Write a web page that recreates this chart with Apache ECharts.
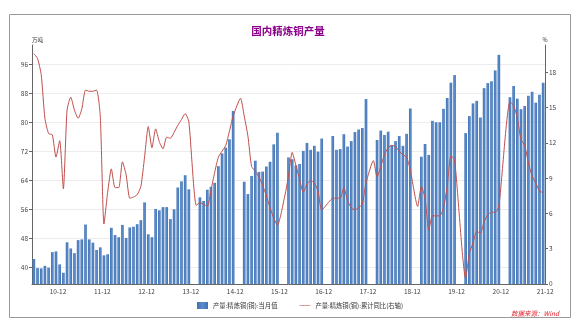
<!DOCTYPE html>
<html><head><meta charset="utf-8">
<script src="https://cdn.jsdelivr.net/npm/echarts@6/dist/echarts.min.js"></script>
<style>html,body{margin:0;padding:0;background:#fff}#c{width:576px;height:326px}</style>
</head><body><div id="c"></div>
<script>
// Monthly categories Jun 2010 .. Dec 2021 (label "YY-MM")
const categories = [];
for (let y = 2010; y <= 2021; y++) {
  for (let m = (y === 2010 ? 6 : 1); m <= 12; m++) {
    categories.push(String(y).slice(2) + '-' + String(m).padStart(2, '0'));
  }
}
// 产量:精炼铜(铜):当月值 (万吨)
const prod2010 = [42.3, 39.8, 39.7, 40.4, 39.9, 44.2, 44.4];
const prod2011 = [40.8, 38.5, 46.9, 45.2, 43.9, 47.5, 47.7, 51.8, 47.7, 46.8, 44.8, 45.5];
const prod2012 = [43.3, 43.6, 50.9, 48.9, 48.3, 51.7, 48.1, 51.0, 51.2, 51.9, 53.0, 57.9];
const prod2013 = [49.1, 48.3, 56.1, 55.7, 56.6, 56.6, 53.3, 56.0, 62.0, 63.7, 65.4, 61.5];
const prod2014 = [null, null, 59.3, 58.3, 61.4, 62.2, 63.3, 67.9, 71.4, 73.0, 75.3, 83.1];
const prod2015 = [null, null, 63.6, 60.2, 65.2, 69.4, 66.3, 66.4, 67.8, 69.1, 73.9, 77.1];
const prod2016 = [null, null, 70.3, 69.8, 68.1, 68.5, 72.1, 74.3, 72.4, 73.5, 71.9, 75.5];
const prod2017 = [null, null, 76.2, 72.4, 72.6, 76.7, 73.3, 74.8, 77.3, 78.0, 78.4, 86.4];
const prod2018 = [null, null, 75.1, 77.7, 76.5, 77.4, 73.7, 74.8, 76.2, 73.5, 76.8, 83.8];
const prod2019 = [null, null, 70.5, 74.0, 71.0, 80.4, 80.0, 80.0, 83.7, 86.7, 90.9, 93.0];
const prod2020 = [null, null, 77.0, 81.7, 85.2, 85.9, 81.3, 89.4, 90.8, 91.3, 94.3, 98.6];
const prod2021 = [null, null, 86.9, 90.0, 86.5, 83.6, 84.5, 87.3, 88.4, 85.4, 87.6, 90.9];
// 产量:精炼铜(铜):累计同比 (%)
const yoy2010 = [19.6, 19.2, 17.8, 14.1, 12.8, 12.7, 10.8];
const yoy2011 = [12.2, 8.1, 14.8, 15.9, 14.8, 14.1, 14.9, 16.5, 16.4, 16.4, 16.5, 14.3];
const yoy2012 = [5.1, 7.8, 9.8, 8.2, 8.2, 10.4, 9.3, 7.3, 7.4, 7.6, 8.3, 10.8];
const yoy2013 = [13.4, 11.6, 13.2, 12.1, 11.5, 12.5, 12.4, 12.9, 13.5, 14.0, 14.5, 13.8];
const yoy2014 = [null, 6.7, 6.9, 6.8, 6.6, 8.0, 9.5, 10.8, 11.3, 11.8, 13.0, 14.3];
const yoy2015 = [null, 15.8, 14.3, 12.6, 10.0, 9.6, 9.1, 8.4, 7.5, 6.5, 5.6, 5.0];
const yoy2016 = [null, 7.5, 9.2, 11.2, 10.1, 8.9, 7.8, 8.5, 8.8, 8.6, 7.9, 6.3];
const yoy2017 = [null, 7.0, 7.3, 7.3, 7.3, 8.2, 7.1, 6.5, 6.3, 6.5, 6.8, 8.6];
const yoy2018 = [null, 10.5, 9.1, 10.0, 11.0, 11.6, 11.8, 11.7, 11.3, 11.0, 10.8, 9.7];
const yoy2019 = [null, 6.6, 8.3, 7.3, 4.6, 5.8, 5.8, 5.8, 6.5, 8.3, 10.9, 10.6];
const yoy2020 = [null, null, 0.5, 2.6, 3.5, 4.5, 4.3, 5.3, 5.9, 6.1, 6.1, 6.6];
const yoy2021 = [null, null, 15.5, 15.2, 14.1, 12.3, 11.8, 10.3, 9.2, 8.6, 7.9, 7.8];

const leftTicks = [40, 48, 56, 64, 72, 80, 88, 96];
const seriesNames = ['产量:精炼铜(铜):当月值', '产量:精炼铜(铜):累计同比(右轴)'];

const production = [].concat(prod2010, prod2011, prod2012, prod2013, prod2014, prod2015,
  prod2016, prod2017, prod2018, prod2019, prod2020, prod2021);
const yoy = [].concat(yoy2010, yoy2011, yoy2012, yoy2013, yoy2014, yoy2015,
  yoy2016, yoy2017, yoy2018, yoy2019, yoy2020, yoy2021);

const FONT = '"Noto Sans CJK SC", "Noto Sans", sans-serif';
const chart = echarts.init(document.getElementById('c'), null, {renderer: 'canvas'});
chart.setOption({
  backgroundColor: '#ffffff',
  animation: false,
  textStyle: {fontFamily: FONT},
  title: {
    text: '国内精炼铜产量', left: 'center', top: 21,
    textStyle: {fontSize: 10.5, fontWeight: 'bold', color: '#8b008b', fontFamily: FONT}
  },
  grid: {left: 32, right: 31, top: 45, bottom: 42},
  legend: {
    left: 192, top: 297, itemWidth: 11, itemHeight: 7, itemGap: 22,
    textStyle: {fontSize: 6.3, color: '#333', fontFamily: FONT},
    data: [
      {name: seriesNames[0], icon: 'rect'},
      {name: seriesNames[1], icon: 'path://M0,0 L20,0 L20,1 L0,1 Z', itemStyle: {color: '#c0504d'}}
    ]
  },
  xAxis: {
    type: 'category', data: categories, boundaryGap: true,
    axisLine: {lineStyle: {color: '#666', width: 1}},
    axisTick: {interval: (i, v) => v.endsWith('-01'), length: 3, lineStyle: {color: '#666'}},
    axisLabel: {interval: (i, v) => v.endsWith('-12'), fontSize: 6.5, color: '#444', margin: 4,
      padding: [0, 0, 0, 4], fontFamily: FONT}
  },
  yAxis: [
    {
      type: 'value', min: 35.4, max: 101.3, position: 'left',
      name: '万吨', nameLocation: 'end', nameGap: 2,
      nameTextStyle: {fontSize: 5.5, color: '#333', align: 'left', fontFamily: FONT},
      axisLine: {show: true, lineStyle: {color: '#666'}},
      axisTick: {show: true, customValues: leftTicks, length: 3, lineStyle: {color: '#666'}},
      axisLabel: {customValues: leftTicks, fontSize: 6.5, color: '#444', margin: 4, fontFamily: FONT},
      splitLine: {show: false}
    },
    {
      type: 'value', min: 0, max: 20.34, interval: 3, position: 'right',
      name: '%', nameLocation: 'end', nameGap: 2,
      nameTextStyle: {fontSize: 5.5, color: '#333', align: 'center', fontFamily: FONT},
      axisLine: {show: true, lineStyle: {color: '#666'}},
      axisTick: {show: true, length: 3, lineStyle: {color: '#666'}},
      axisLabel: {fontSize: 6.5, color: '#444', margin: 4, showMaxLabel: false, fontFamily: FONT},
      splitLine: {show: false}
    }
  ],
  series: [
    {
      name: 'grid', type: 'line', data: [], yAxisIndex: 0, z: 0, silent: true,
      markLine: {
        silent: true, symbol: 'none', z: 0, animation: false,
        label: {show: false},
        lineStyle: {color: '#ececec', type: 'solid', width: 1},
        data: leftTicks.map(v => ({yAxis: v}))
      }
    },
    {
      name: seriesNames[0], type: 'bar', yAxisIndex: 0, data: production, z: 2,
      barWidth: '72%',
      itemStyle: {
        color: new echarts.graphic.LinearGradient(0, 0, 1, 0, [
          {offset: 0, color: '#3f72b3'}, {offset: 0.5, color: '#5a8bcb'}, {offset: 1, color: '#3f72b3'}
        ])
      }
    },
    {
      name: seriesNames[1], type: 'line', yAxisIndex: 1, data: yoy, z: 3,
      connectNulls: true, showSymbol: false, symbol: 'none', smooth: 0.2,
      lineStyle: {color: '#c0504d', width: 1},
      itemStyle: {color: '#c0504d'}
    }
  ],
  graphic: [
    {type: 'rect', shape: {x: 9.5, y: 14.5, width: 561, height: 303}, silent: true, z: -1,
      style: {fill: null, stroke: '#9a9a9a', lineWidth: 1}},
    {type: 'text', left: 511, top: 310, silent: true,
      style: {text: '数据来源：Wind', fontSize: 6.5, fontStyle: 'italic', fill: '#e0202a', fontFamily: FONT}}
  ]
});
</script>
</body></html>
